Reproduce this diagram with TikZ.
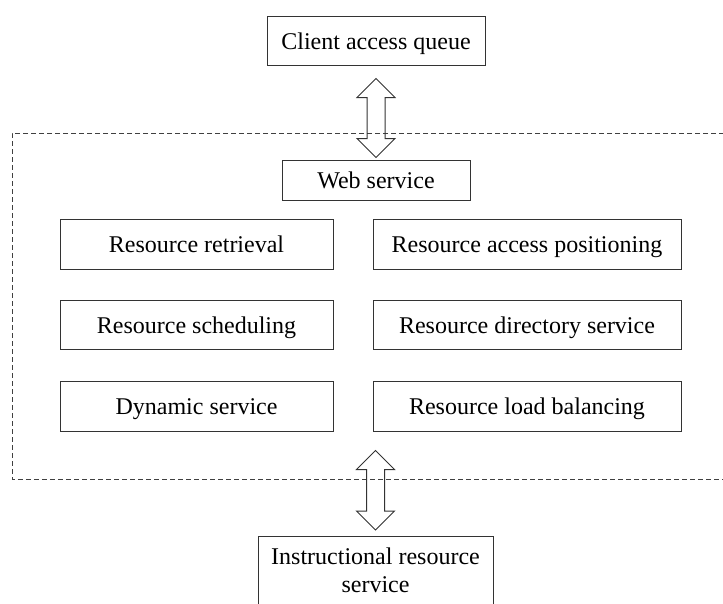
\documentclass[tikz,border=0pt]{standalone}
\usepackage{fontspec}
\setmainfont{Liberation Serif}
\usetikzlibrary{calc}
\tikzset{
  box/.style={draw=black!80, line width=1pt, rectangle, inner sep=0pt, align=center, text height=20pt, text depth=3pt, font=\fontsize{24}{28}\selectfont},
  frame/.style={draw=black!75, line width=0.9pt, dash pattern=on 5pt off 3pt},
  dblarrow/.style={draw=black!80, line width=1pt, line join=miter}
}
\begin{document}
\begin{tikzpicture}[x=1pt,y=-1pt]
\useasboundingbox (0,0) rectangle (723,603);
\clip (0,0) rectangle (723,603);
% dashed frame (open to the right)
\draw[frame] (740,133) -- (12,133) -- (12,479) -- (740,479);
% nodes
\node[box, minimum width=218pt, minimum height=49pt] (client) at (376,40.5) {Client access queue};
\node[box, minimum width=188pt, minimum height=40pt] (web) at (376,180) {Web service};
\node[box, minimum width=273pt, minimum height=50pt] (rr) at (196.5,244) {Resource retrieval};
\node[box, minimum width=273pt, minimum height=49pt] (rs) at (196.5,324.5) {Resource scheduling};
\node[box, minimum width=273pt, minimum height=50pt] (ds) at (196.5,406) {Dynamic service};
\node[box, minimum width=308pt, minimum height=50pt] (rap) at (527,244) {Resource access positioning};
\node[box, minimum width=308pt, minimum height=49pt] (rds) at (527,324.5) {Resource directory service};
\node[box, minimum width=308pt, minimum height=50pt] (rlb) at (527,406) {Resource load balancing};
\draw[draw=black!80, line width=1pt] (258,640) |- (493,536) -- (493,640);
\node[align=center, font=\fontsize{24}{28}\selectfont, anchor=north, inner sep=0pt] (instr) at (375.5,548) {Instructional resource\\service};
\coordinate (instrtop) at (375.5,536);
% double arrows
\coordinate (t1) at ($(client.south)+(0,13)$);
\coordinate (b1) at ($(web.north)+(0,-2)$);
\draw[dblarrow] let \p1=(t1), \p2=(b1) in
  (\x1,\y1) -- (\x1+19pt,\y1-19pt) -- (\x1+9pt,\y1-19pt) -- (\x1+9pt,\y2+19pt) -- (\x1+19pt,\y2+19pt)
  -- (\x1,\y2) -- (\x1-19pt,\y2+19pt) -- (\x1-9pt,\y2+19pt) -- (\x1-9pt,\y1-19pt) -- (\x1-19pt,\y1-19pt) -- cycle;
\coordinate (t2) at ($(ds.south -| instrtop)+(0,19)$);
\coordinate (b2) at ($(instrtop)+(0,-6)$);
\draw[dblarrow] let \p1=(t2), \p2=(b2) in
  (\x1,\y1) -- (\x1+19pt,\y1-19pt) -- (\x1+9pt,\y1-19pt) -- (\x1+9pt,\y2+19pt) -- (\x1+19pt,\y2+19pt)
  -- (\x1,\y2) -- (\x1-19pt,\y2+19pt) -- (\x1-9pt,\y2+19pt) -- (\x1-9pt,\y1-19pt) -- (\x1-19pt,\y1-19pt) -- cycle;
\end{tikzpicture}
\end{document}
